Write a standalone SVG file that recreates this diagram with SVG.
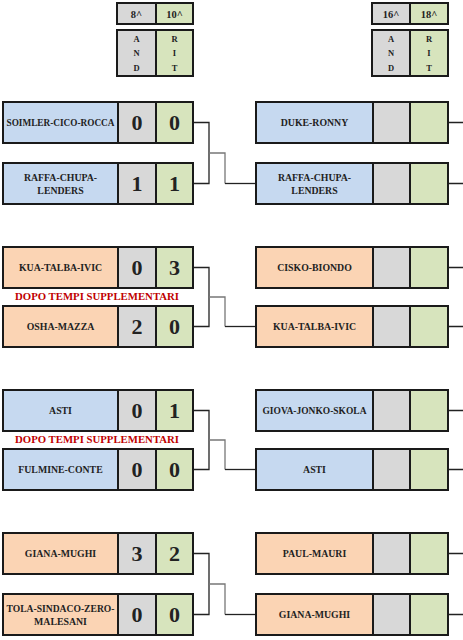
<svg xmlns="http://www.w3.org/2000/svg" width="463" height="640" viewBox="0 0 463 640">
<style>
.cell{stroke:#1a1a1a;stroke-width:2}
.blue{fill:#c6d9f0}
.orange{fill:#fbd4b4}
.gray{fill:#d8d8d8}
.green{fill:#d7e4bd}
.name{font-family:"Liberation Serif",serif;font-weight:bold;font-size:9.8px;fill:#222;text-anchor:middle}
.score{font-family:"Liberation Serif",serif;font-weight:bold;font-size:22px;fill:#222;text-anchor:middle}
.hdr{font-family:"Liberation Serif",serif;font-weight:bold;font-size:10.5px;fill:#222;text-anchor:middle}
.let{font-family:"Liberation Serif",serif;font-weight:bold;font-size:8.5px;fill:#222;text-anchor:middle}
.note{font-family:"Liberation Serif",serif;font-weight:bold;font-size:10.5px;fill:#c00000;text-anchor:middle}
.ln{fill:none;stroke:#222;stroke-width:1.3}
.lg{fill:none;stroke:#777;stroke-width:1.3}
</style>
<rect width="463" height="640" fill="#fff"/>

<g id="hdr-left">
<rect class="cell gray" x="117" y="3" width="39" height="21"/>
<rect class="cell green" x="156" y="3" width="37" height="21"/>
<text class="hdr" x="136.5" y="18">8^</text>
<text class="hdr" x="174.5" y="18">10^</text>
<rect class="cell gray" x="117" y="30" width="39" height="46"/>
<rect class="cell green" x="156" y="30" width="37" height="46"/>
<text class="let" x="136.5" y="42">A</text><text class="let" x="136.5" y="56">N</text><text class="let" x="136.5" y="71">D</text>
<text class="let" x="174.5" y="42">R</text><text class="let" x="174.5" y="56">I</text><text class="let" x="174.5" y="71">T</text>
</g>
<g id="hdr-right">
<rect class="cell gray" x="372" y="3" width="38" height="21"/>
<rect class="cell green" x="410" y="3" width="38" height="21"/>
<text class="hdr" x="391" y="18">16^</text>
<text class="hdr" x="429" y="18">18^</text>
<rect class="cell gray" x="372" y="30" width="38" height="46"/>
<rect class="cell green" x="410" y="30" width="38" height="46"/>
<text class="let" x="391" y="42">A</text><text class="let" x="391" y="56">N</text><text class="let" x="391" y="71">D</text>
<text class="let" x="429" y="42">R</text><text class="let" x="429" y="56">I</text><text class="let" x="429" y="71">T</text>
</g>

<g id="connectors">
<path class="ln" d="M193 122.5H209V183.5H193"/>
<path class="lg" d="M209 153H225V183.5"/>
<path class="ln" d="M225 183.5H256"/>
<path class="ln" d="M193 267.5H209V326.5H193"/>
<path class="lg" d="M209 297H225V326.5"/>
<path class="ln" d="M225 326.5H256"/>
<path class="ln" d="M193 410.5H209V469.5H193"/>
<path class="lg" d="M209 440H225V469.5"/>
<path class="ln" d="M225 469.5H256"/>
<path class="ln" d="M193 553.5H209V614.5H193"/>
<path class="lg" d="M209 584H225V614.5"/>
<path class="ln" d="M225 614.5H256"/>
<path class="ln" d="M448 122.5H463M448 183.5H463M448 267.5H463M448 326.5H463M448 410.5H463M448 469.5H463M448 553.5H463M448 614.5H463"/>
</g>

<g id="l1a">
<rect class="cell blue" x="3" y="102" width="115" height="41"/>
<rect class="cell gray" x="118" y="102" width="38" height="41"/>
<rect class="cell green" x="156" y="102" width="37" height="41"/>
<text class="name" x="60.5" y="126" textLength="108" lengthAdjust="spacingAndGlyphs">SOIMLER-CICO-ROCCA</text>
<text class="score" x="137" y="130">0</text><text class="score" x="174.5" y="130">0</text>
</g>
<g id="l1b">
<rect class="cell blue" x="3" y="163" width="115" height="41"/>
<rect class="cell gray" x="118" y="163" width="38" height="41"/>
<rect class="cell green" x="156" y="163" width="37" height="41"/>
<text class="name" x="60.5" y="181">RAFFA-CHUPA-</text>
<text class="name" x="60.5" y="194">LENDERS</text>
<text class="score" x="137" y="191">1</text><text class="score" x="174.5" y="191">1</text>
</g>
<g id="l2a">
<rect class="cell orange" x="3" y="247" width="115" height="41"/>
<rect class="cell gray" x="118" y="247" width="38" height="41"/>
<rect class="cell green" x="156" y="247" width="37" height="41"/>
<text class="name" x="60.5" y="271">KUA-TALBA-IVIC</text>
<text class="score" x="137" y="275">0</text><text class="score" x="174.5" y="275">3</text>
</g>
<text id="note2" class="note" x="97" y="300" textLength="164" lengthAdjust="spacingAndGlyphs">DOPO TEMPI SUPPLEMENTARI</text>
<g id="l2b">
<rect class="cell orange" x="3" y="306" width="115" height="41"/>
<rect class="cell gray" x="118" y="306" width="38" height="41"/>
<rect class="cell green" x="156" y="306" width="37" height="41"/>
<text class="name" x="60.5" y="330">OSHA-MAZZA</text>
<text class="score" x="137" y="334">2</text><text class="score" x="174.5" y="334">0</text>
</g>
<g id="l3a">
<rect class="cell blue" x="3" y="390" width="115" height="41"/>
<rect class="cell gray" x="118" y="390" width="38" height="41"/>
<rect class="cell green" x="156" y="390" width="37" height="41"/>
<text class="name" x="60.5" y="414">ASTI</text>
<text class="score" x="137" y="418">0</text><text class="score" x="174.5" y="418">1</text>
</g>
<text id="note3" class="note" x="97" y="443" textLength="164" lengthAdjust="spacingAndGlyphs">DOPO TEMPI SUPPLEMENTARI</text>
<g id="l3b">
<rect class="cell blue" x="3" y="449" width="115" height="41"/>
<rect class="cell gray" x="118" y="449" width="38" height="41"/>
<rect class="cell green" x="156" y="449" width="37" height="41"/>
<text class="name" x="60.5" y="473">FULMINE-CONTE</text>
<text class="score" x="137" y="477">0</text><text class="score" x="174.5" y="477">0</text>
</g>
<g id="l4a">
<rect class="cell orange" x="3" y="533" width="115" height="41"/>
<rect class="cell gray" x="118" y="533" width="38" height="41"/>
<rect class="cell green" x="156" y="533" width="37" height="41"/>
<text class="name" x="60.5" y="557">GIANA-MUGHI</text>
<text class="score" x="137" y="561">3</text><text class="score" x="174.5" y="561">2</text>
</g>
<g id="l4b">
<rect class="cell orange" x="3" y="594" width="115" height="41"/>
<rect class="cell gray" x="118" y="594" width="38" height="41"/>
<rect class="cell green" x="156" y="594" width="37" height="41"/>
<text class="name" x="60.5" y="612" textLength="108" lengthAdjust="spacingAndGlyphs">TOLA-SINDACO-ZERO-</text>
<text class="name" x="60.5" y="625">MALESANI</text>
<text class="score" x="137" y="622">0</text><text class="score" x="174.5" y="622">0</text>
</g>

<g id="r1a">
<rect class="cell blue" x="256" y="102" width="117" height="41"/>
<rect class="cell gray" x="373" y="102" width="37" height="41"/>
<rect class="cell green" x="410" y="102" width="38" height="41"/>
<text class="name" x="314.5" y="126">DUKE-RONNY</text>
</g>
<g id="r1b">
<rect class="cell blue" x="256" y="163" width="117" height="41"/>
<rect class="cell gray" x="373" y="163" width="37" height="41"/>
<rect class="cell green" x="410" y="163" width="38" height="41"/>
<text class="name" x="314.5" y="181">RAFFA-CHUPA-</text>
<text class="name" x="314.5" y="194">LENDERS</text>
</g>
<g id="r2a">
<rect class="cell orange" x="256" y="247" width="117" height="41"/>
<rect class="cell gray" x="373" y="247" width="37" height="41"/>
<rect class="cell green" x="410" y="247" width="38" height="41"/>
<text class="name" x="314.5" y="271">CISKO-BIONDO</text>
</g>
<g id="r2b">
<rect class="cell orange" x="256" y="306" width="117" height="41"/>
<rect class="cell gray" x="373" y="306" width="37" height="41"/>
<rect class="cell green" x="410" y="306" width="38" height="41"/>
<text class="name" x="314.5" y="330">KUA-TALBA-IVIC</text>
</g>
<g id="r3a">
<rect class="cell blue" x="256" y="390" width="117" height="41"/>
<rect class="cell gray" x="373" y="390" width="37" height="41"/>
<rect class="cell green" x="410" y="390" width="38" height="41"/>
<text class="name" x="314.5" y="414" textLength="104" lengthAdjust="spacingAndGlyphs">GIOVA-JONKO-SKOLA</text>
</g>
<g id="r3b">
<rect class="cell blue" x="256" y="449" width="117" height="41"/>
<rect class="cell gray" x="373" y="449" width="37" height="41"/>
<rect class="cell green" x="410" y="449" width="38" height="41"/>
<text class="name" x="314.5" y="473">ASTI</text>
</g>
<g id="r4a">
<rect class="cell orange" x="256" y="533" width="117" height="41"/>
<rect class="cell gray" x="373" y="533" width="37" height="41"/>
<rect class="cell green" x="410" y="533" width="38" height="41"/>
<text class="name" x="314.5" y="557">PAUL-MAURI</text>
</g>
<g id="r4b">
<rect class="cell orange" x="256" y="594" width="117" height="41"/>
<rect class="cell gray" x="373" y="594" width="37" height="41"/>
<rect class="cell green" x="410" y="594" width="38" height="41"/>
<text class="name" x="314.5" y="618">GIANA-MUGHI</text>
</g>
</svg>
